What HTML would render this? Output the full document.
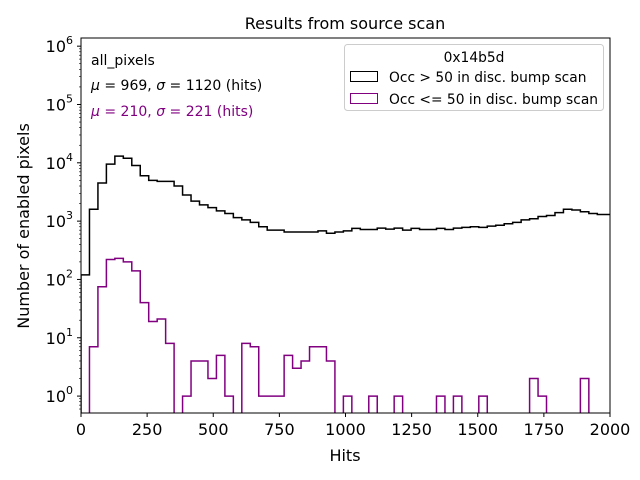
<!DOCTYPE html>
<html><head><meta charset="utf-8"><style>
body{margin:0;background:#fff}
svg{display:block;font-family:"DejaVu Sans","Liberation Sans",sans-serif}
</style></head><body>
<svg id="chart" width="640" height="480" viewBox="0 0 640 480">
<text x="345" y="29" font-size="16" text-anchor="middle">Results from source scan</text>
<g id="plot"></g>
<rect x="81" y="38" width="529" height="375" fill="none" stroke="#000" stroke-width="1"/>
<g id="axes"></g>
<text x="345" y="461" font-size="16" text-anchor="middle">Hits</text>
<text transform="translate(29,226) rotate(-90)" font-size="16" text-anchor="middle">Number of enabled pixels</text>
<text x="91" y="65" font-size="14">all_pixels</text>
<text x="91" y="90" font-size="14"><tspan font-style="italic">μ</tspan> = 969, <tspan font-style="italic">σ</tspan> = 1120 (hits)</text>
<text x="91" y="116" font-size="14" fill="#800080"><tspan font-style="italic">μ</tspan> = 210, <tspan font-style="italic">σ</tspan> = 221 (hits)</text>
<g>
<rect x="344.5" y="44.5" width="259" height="66" rx="3" fill="#fff" stroke="#ccc"/>
<text x="474" y="62" font-size="13.8" text-anchor="middle">0x14b5d</text>
<rect x="350.5" y="71.5" width="27" height="10" fill="none" stroke="#000"/>
<text x="389" y="82" font-size="13.8">Occ &gt; 50 in disc. bump scan</text>
<rect x="350.5" y="93.5" width="27" height="10" fill="none" stroke="#800080"/>
<text x="389" y="104" font-size="13.8">Occ &lt;= 50 in disc. bump scan</text>
</g>
</svg>
<script>
const binWidth = 32;
const blackCounts = [120,1600,4500,9500,13000,12000,9000,6000,5000,4800,4800,4000,2800,2200,1900,1700,1500,1350,1150,1050,950,800,700,700,650,650,650,650,680,620,650,680,
750,720,720,760,730,760,700,750,720,720,750,720,760,780,800,780,820,850,900,950,
1050,1100,1200,1250,1400,1600,1550,1450,1350,1300,1300];
const purpleCounts = [0,7,75,220,230,200,140,40,19,21,8,0,1,4,4,2,5,1,0,8,7,1,1,1,5,3,4,7,7,4,0,1,
0,0,1,0,0,1,0,0,0,0,1,0,1,0,0,1,0,0,0,0,0,2,1,0,0,0,0,2,0,0,0];
const xTicks = [0,250,500,750,1000,1250,1500,1750,2000];
const yTickExps = [0,1,2,3,4,5,6];

const NS = "http://www.w3.org/2000/svg";
const X0=81, X1=610, Y0=413, Y1=38;
const xMin=0, xMax=2000, yMinExp=-0.29, yMaxExp=6.14;
function xs(v){return X0+(v-xMin)/(xMax-xMin)*(X1-X0);}
function ys(v){const l=Math.log10(Math.max(v,1e-9));const c=Math.max(l,yMinExp-1);return Y0-(c-yMinExp)/(yMaxExp-yMinExp)*(Y0-Y1);}
const plot=document.getElementById('plot');
const axes=document.getElementById('axes');
function mk(tag,attrs,parent){const e=document.createElementNS(NS,tag);for(const k in attrs)e.setAttribute(k,attrs[k]);parent.appendChild(e);return e;}
const clip=mk('clipPath',{id:'clipP'},plot);
mk('rect',{x:X0,y:Y1,width:X1-X0,height:Y0-Y1},clip);

function stepPath(counts){
  let d='';let base=Y0+20;
  counts.forEach((c,i)=>{
    const xa=xs(i*binWidth), xb=xs((i+1)*binWidth);
    const y=c>0?ys(c):base;
    if(i===0) d+='M'+xa+','+base+' L'+xa+','+y;
    else d+=' L'+xa+','+y;
    d+=' L'+xb+','+y;
  });
  d+=' L'+xs(counts.length*binWidth)+','+base;
  return d;
}
const pb=mk('path',{d:stepPath(blackCounts),fill:'none',stroke:'#000','stroke-width':1.5,'clip-path':'url(#clipP)'},plot);


const pp=mk('path',{d:stepPath(purpleCounts),fill:'none',stroke:'#800080','stroke-width':1.5,'clip-path':'url(#clipP)'},plot);



xTicks.forEach(t=>{
  const x=xs(t);
  mk('line',{x1:x,x2:x,y1:Y0,y2:Y0+4,stroke:'#000'},axes);
  const tx=mk('text',{x:x,y:Y0+22,'font-size':16,'text-anchor':'middle'},axes);
  tx.textContent=String(t);
  
  
});
yTickExps.forEach(e=>{
  const y=ys(Math.pow(10,e));
  mk('line',{x1:X0-4,x2:X0,y1:y,y2:y,stroke:'#000'},axes);
  for(let m=2;m<=9;m++){
    const yy=ys(m*Math.pow(10,e-1));
    if(yy<=Y0&&yy>=Y1) mk('line',{x1:X0-2,x2:X0,y1:yy,y2:yy,stroke:'#000','stroke-width':0.6},axes);
  }
  const tx=mk('text',{x:X0-8,y:y+6,'font-size':16,'text-anchor':'end'},axes);
  
  
  const a=document.createElementNS(NS,'tspan');a.textContent='10';tx.appendChild(a);
  const b=document.createElementNS(NS,'tspan');b.setAttribute('dy','-8');b.setAttribute('font-size','11');b.textContent=String(e);tx.appendChild(b);
});
for(let m=2;m<=9;m++){const yy=ys(m*Math.pow(10,6));if(yy>=Y1)mk('line',{x1:X0-2,x2:X0,y1:yy,y2:yy,stroke:'#000','stroke-width':0.6},axes);}
</script>
</body></html>
